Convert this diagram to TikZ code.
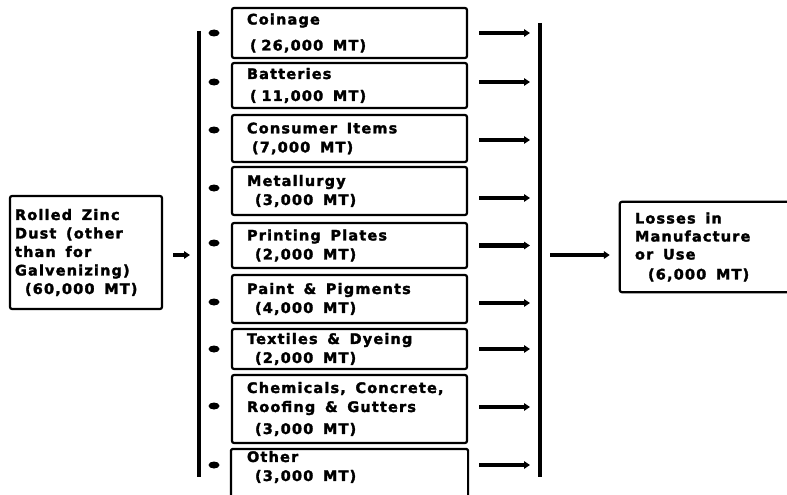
\documentclass[tikz,border=0pt]{standalone}
\usepackage{fontspec}
\newfontfamily\diagfont{DejaVu Sans Bold}[LetterSpace=8,FakeBold=2]
\usetikzlibrary{arrows.meta,shapes.geometric}
\newcommand\diagtxt{\diagfont\fontsize{14.5}{19}\selectfont}
\newcommand\diagtxtb{\diagfont\fontsize{14.5}{18.5}\selectfont}
\newcommand\diagtxtc{\diagfont\fontsize{14.5}{18}\selectfont}
\newcommand\gap{\ \ }
\begin{document}
\begin{tikzpicture}[x=1pt,y=-1pt,line join=round,
  catbox/.style={draw, line width=2.2pt, rounded corners=2pt, inner xsep=15pt, inner ysep=0pt,
    text width=205pt, minimum height=#1, align=left, font=\diagtxt},
  dot/.style={ellipse, fill=black, draw=none, inner sep=0pt, minimum width=11pt, minimum height=7pt},
  arr/.style={line width=4.2pt, -{Triangle[length=6pt,width=7.5pt]}},
  bar/.style={line width=3.8pt},
  frame/.style={line width=2.2pt, rounded corners=2pt}]
\useasboundingbox (0,0) rectangle (787,495);

% category boxes
\node[catbox=50pt] (c1) at (349.5,33) {Coinage\\[7pt]\hspace*{3pt}( 26,000\gap MT)};
\node[catbox=45pt] (c2) at (349.5,85.5) {Batteries\\[3pt]\hspace*{3pt}( 11,000\gap MT)};
\node[catbox=47pt] (c3) at (349.5,138.5) {Consumer\gap Items\\\hspace*{5pt}(7,000\gap MT)};
\node[catbox=48pt] (c4) at (349.5,191) {Metallurgy\\\hspace*{8pt}(3,000\gap MT)};
\node[catbox=45pt] (c5) at (349.5,245.5) {Printing\gap Plates\\\hspace*{8pt}(2,000\gap MT)};
\node[catbox=48pt] (c6) at (349.5,299) {Paint\gap \&\gap Pigments\\\hspace*{8pt}(4,000\gap MT)};
\node[catbox=40pt] (c7) at (349.5,349) {Textiles\gap \&\gap Dyeing\\\hspace*{8pt}(2,000\gap MT)};
\node[catbox=68pt] (c8) at (349.5,409) {Chemicals,\gap Concrete,\\Roofing\gap \&\gap Gutters\\[3pt]\hspace*{8pt}(3,000\gap MT)};
\node[catbox=34pt, draw=none] (c9) at (349.5,467) {Other\\\hspace*{8pt}(3,000\gap MT)};
\coordinate (base) at (0,498);
\draw[frame] (c9.north west |- base) -- (c9.north west) -- (c9.north east) -- (c9.north east |- base);

% source box
\node[draw, frame, inner xsep=5pt, inner ysep=0pt, text width=142pt, minimum height=113pt,
  align=left, font=\diagtxtb] (src) at (86,252.5)
  {Rolled\gap Zinc\\Dust\gap (other\\than\gap for\\Galvenizing)\\\hspace*{10pt}(60,000\gap MT)};

% losses box (open at right edge)
\node[inner xsep=15pt, inner ysep=0pt, text width=145pt, minimum height=90pt,
  align=left, font=\diagtxtc] (loss) at (707.5,247)
  {Losses\gap in\\Manufacture\\or\gap Use\\[2pt]\hspace*{13pt}(6,000\gap MT)};
\draw[frame] (loss.north east) -- (loss.north west) -- (loss.south west) -- (loss.south east);

% brackets
\coordinate (ltop) at (199,31);
\coordinate (lbot) at (199,477);
\draw[bar] (ltop) -- (lbot);
\coordinate (rtop) at (540,23);
\coordinate (rbot) at (540,477);
\draw[bar, line width=4.2pt] (rtop) -- (rbot);

% bullets
\node[dot] (d1) at (214,33) {};
\node[dot] (d2) at (214,82) {};
\node[dot] (d3) at (214,130) {};
\node[dot] (d4) at (214,188) {};
\node[dot] (d5) at (214,243) {};
\node[dot] (d6) at (214,302) {};
\node[dot] (d7) at (214,349) {};
\node[dot] (d8) at (214,406) {};
\node[dot] (d9) at (214,465) {};

% arrows to right bracket
\draw[arr, shorten <=11pt, shorten >=10pt] (c1.east) -- (c1.east -| rtop);
\draw[arr, shorten <=11pt, shorten >=10pt] ([yshift=3.5pt]c2.east) -- ([yshift=3.5pt]c2.east -| rtop);
\draw[arr, shorten <=11pt, shorten >=10pt] ([yshift=-1.5pt]c3.east) -- ([yshift=-1.5pt]c3.east -| rtop);
\draw[arr, shorten <=11pt, shorten >=10pt] ([yshift=-7pt]c4.east) -- ([yshift=-7pt]c4.east -| rtop);
\draw[arr, shorten <=11pt, shorten >=10pt] (c5.east) -- (c5.east -| rtop);
\draw[arr, shorten <=11pt, shorten >=10pt] ([yshift=-4pt]c6.east) -- ([yshift=-4pt]c6.east -| rtop);
\draw[arr, shorten <=11pt, shorten >=10pt] (c7.east) -- (c7.east -| rtop);
\draw[arr, shorten <=11pt, shorten >=10pt] ([yshift=2pt]c8.east) -- ([yshift=2pt]c8.east -| rtop);
\draw[arr, shorten <=11pt, shorten >=10pt] ([yshift=2pt]c9.east) -- ([yshift=2pt]c9.east -| rtop);

% source to left bracket
\draw[arr, shorten <=10pt, shorten >=9pt] ([yshift=-2.5pt]src.east) -- ([yshift=-2.5pt]src.east -| ltop);
% right bracket to losses
\draw[arr, shorten <=10pt, shorten >=10pt] ([yshift=-8pt]loss.west -| rtop) -- ([yshift=-8pt]loss.west);
\end{tikzpicture}
\end{document}
